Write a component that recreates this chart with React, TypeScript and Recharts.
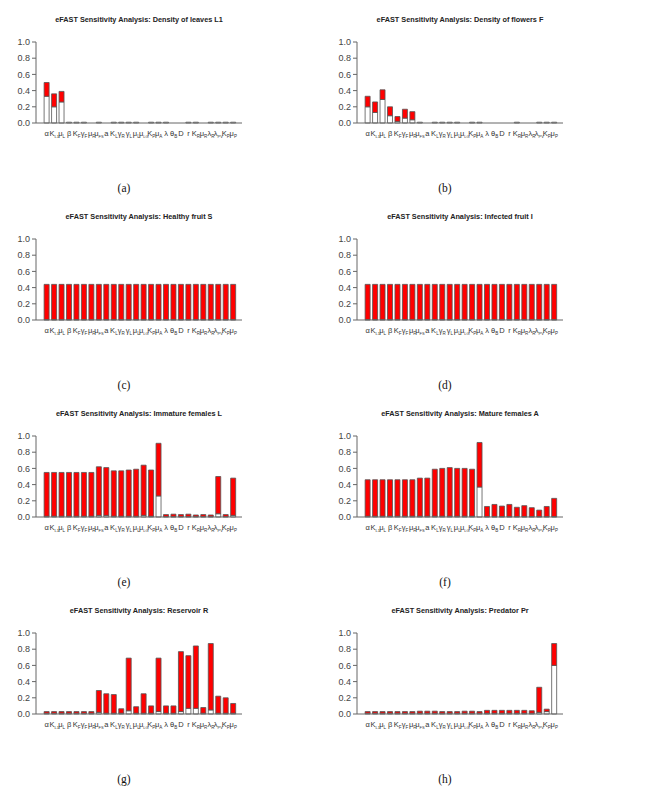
import { BarChart, Bar, XAxis, YAxis } from "recharts"

// parameter names under the bars (symbol + subscript)
const paramSymbols = ["α", "K", "μ", "β", "K", "γ", "μ", "μ", "a", "K", "γ", "γ", "μ", "μ", "K", "μ", "λ", "θ", "D", "r", "K", "μ", "λ", "λ", "K", "μ"]
const paramSubs = ["", "L1", "L", "", "F", "F", "F", "FS", "", "L", "R", "L", "L", "LG", "P", "A", "", "B", "", "", "R", "R", "R", "PV", "P", "P"]

const yTicks = [0, 0.2, 0.4, 0.6, 0.8, 1.0]

// first-order index (white part) and total-order index (top of red part)
const leavesFirst = [0.33, 0.2, 0.26, 0.01, 0.01, 0.01, 0, 0.01, 0, 0.01, 0.01, 0.01, 0.01, 0, 0.01, 0.01, 0.01, 0, 0, 0.01, 0.01, 0, 0.01, 0.01, 0.01, 0.01]
const leavesTotal = [0.5, 0.36, 0.39, 0.01, 0.01, 0.01, 0, 0.01, 0, 0.01, 0.01, 0.01, 0.01, 0, 0.01, 0.01, 0.01, 0, 0, 0.01, 0.01, 0, 0.01, 0.01, 0.01, 0.01]

const flowersFirst = [0.2, 0.13, 0.29, 0.09, 0.02, 0.06, 0.04, 0.01, 0, 0.01, 0.01, 0.01, 0.01, 0, 0.01, 0.01, 0, 0, 0, 0, 0.01, 0, 0, 0.01, 0.01, 0.01]
const flowersTotal = [0.33, 0.26, 0.41, 0.2, 0.08, 0.17, 0.14, 0.01, 0, 0.01, 0.01, 0.01, 0.01, 0, 0.01, 0.01, 0, 0, 0, 0, 0.01, 0, 0, 0.01, 0.01, 0.01]

const healthyFirst = [0.005, 0.005, 0.005, 0.005, 0.005, 0.005, 0.005, 0.005, 0.005, 0.005, 0.005, 0.005, 0.005, 0.005, 0.005, 0.005, 0.005, 0.005, 0.005, 0.005, 0.005, 0.005, 0.005, 0.005, 0.005, 0.005]
const healthyTotal = [0.44, 0.44, 0.44, 0.44, 0.44, 0.44, 0.44, 0.44, 0.44, 0.44, 0.44, 0.44, 0.44, 0.44, 0.44, 0.44, 0.44, 0.44, 0.44, 0.44, 0.44, 0.44, 0.44, 0.44, 0.44, 0.44]

const infectedFirst = [0.005, 0.005, 0.005, 0.005, 0.005, 0.005, 0.005, 0.005, 0.005, 0.005, 0.005, 0.005, 0.005, 0.005, 0.005, 0.005, 0.005, 0.005, 0.005, 0.005, 0.005, 0.005, 0.005, 0.005, 0.005, 0.005]
const infectedTotal = [0.44, 0.44, 0.44, 0.44, 0.44, 0.44, 0.44, 0.44, 0.44, 0.44, 0.44, 0.44, 0.44, 0.44, 0.44, 0.44, 0.44, 0.44, 0.44, 0.44, 0.44, 0.44, 0.44, 0.44, 0.44, 0.44]

const immatureFirst = [0.01, 0.01, 0.01, 0.01, 0.01, 0.01, 0.01, 0.02, 0.02, 0.01, 0.01, 0.01, 0.01, 0.02, 0.01, 0.26, 0.005, 0.005, 0.005, 0.005, 0.005, 0.005, 0.005, 0.04, 0.005, 0.02]
const immatureTotal = [0.55, 0.55, 0.55, 0.55, 0.55, 0.55, 0.55, 0.62, 0.61, 0.57, 0.57, 0.58, 0.59, 0.64, 0.58, 0.91, 0.03, 0.035, 0.03, 0.035, 0.025, 0.03, 0.025, 0.5, 0.03, 0.48]

const matureFirst = [0.01, 0.01, 0.01, 0.01, 0.01, 0.01, 0.01, 0.01, 0.01, 0.01, 0.01, 0.01, 0.01, 0.01, 0.01, 0.37, 0.005, 0.005, 0.005, 0.005, 0.005, 0.005, 0.005, 0.005, 0.005, 0.005]
const matureTotal = [0.46, 0.46, 0.46, 0.46, 0.46, 0.46, 0.46, 0.48, 0.48, 0.59, 0.6, 0.61, 0.6, 0.6, 0.59, 0.92, 0.13, 0.155, 0.135, 0.155, 0.12, 0.14, 0.115, 0.085, 0.13, 0.23]

const reservoirFirst = [0.01, 0.01, 0.01, 0.01, 0.01, 0.01, 0.01, 0.02, 0.01, 0.01, 0.01, 0.04, 0.01, 0.01, 0.01, 0.03, 0.01, 0.01, 0.03, 0.07, 0.07, 0.01, 0.05, 0.01, 0.01, 0.01]
const reservoirTotal = [0.03, 0.03, 0.03, 0.03, 0.03, 0.03, 0.03, 0.29, 0.25, 0.24, 0.065, 0.69, 0.09, 0.25, 0.1, 0.69, 0.1, 0.1, 0.77, 0.72, 0.84, 0.08, 0.87, 0.22, 0.2, 0.13]

const predatorFirst = [0.01, 0.01, 0.01, 0.01, 0.01, 0.01, 0.01, 0.01, 0.01, 0.01, 0.01, 0.01, 0.01, 0.01, 0.01, 0.01, 0.01, 0.01, 0.01, 0.01, 0.01, 0.01, 0.01, 0.02, 0.03, 0.6]
const predatorTotal = [0.03, 0.03, 0.03, 0.03, 0.03, 0.03, 0.03, 0.035, 0.035, 0.035, 0.03, 0.03, 0.03, 0.035, 0.035, 0.03, 0.045, 0.045, 0.045, 0.045, 0.045, 0.045, 0.04, 0.33, 0.06, 0.87]

const FONT = "'Liberation Sans', Arial, sans-serif"

function ParamTick(props: any) {
  const { x, y, payload } = props
  const i = payload.index
  const sub = paramSubs[i]
  return (
    <text x={x} y={y + 5} textAnchor="middle" fontSize={7.5} fill="#333" fontFamily={FONT}>
      <tspan>{paramSymbols[i]}</tspan>
      {sub ? (
        <tspan fontSize={sub.length > 1 ? 4 : 4.5} dy={2}>
          {sub}
        </tspan>
      ) : null}
    </text>
  )
}

interface PanelProps {
  title: string
  caption: string
  first: number[]
  total: number[]
  left: number
  top: number
}

function Panel({ title, caption, first, total, left, top }: PanelProps) {
  const data = first.map((f, i) => ({
    id: String(i),
    first: f,
    rest: Math.max(0, total[i] - f),
  }))

  return (
    <div style={{ position: "absolute", left, top, width: 321, height: 197 }}>
      <div
        style={{
          position: "absolute",
          left: 39,
          width: 200,
          top: 15,
          textAlign: "center",
          fontFamily: FONT,
          fontWeight: "bold",
          fontSize: 7.3,
          color: "#222",
          whiteSpace: "nowrap",
        }}
      >
        {title}
      </div>
      <BarChart
        width={260}
        height={150}
        data={data}
        margin={{ top: 42, right: 18, bottom: 0, left: 6 }}
        barCategoryGap="15%"
      >
        <XAxis
          dataKey="id"
          interval={0}
          tickLine={false}
          tick={<ParamTick />}
          axisLine={{ stroke: "#666" }}
          height={27}
          padding={{ left: 7, right: 5 }}
        />
        <YAxis
          domain={[0, 1]}
          ticks={yTicks}
          width={30}
          tickSize={4}
          tickMargin={2}
          tickFormatter={(v: number) => v.toFixed(1)}
          tick={{ fontSize: 9, fill: "#444", fontFamily: FONT }}
          tickLine={{ stroke: "#666" }}
          axisLine={{ stroke: "#666" }}
        />
        <YAxis
          yAxisId="right"
          orientation="right"
          domain={[0, 1]}
          width={0}
          tick={false}
          tickLine={false}
          axisLine={{ stroke: "#666" }}
        />
        <Bar dataKey="first" stackId="s" fill="#ffffff" stroke="#555" strokeWidth={0.8} isAnimationActive={false} />
        <Bar dataKey="rest" stackId="s" fill="#ff0000" stroke="#555" strokeWidth={0.8} isAnimationActive={false} />
      </BarChart>
      <div
        style={{
          position: "absolute",
          left: 104,
          width: 40,
          top: 182,
          textAlign: "center",
          fontFamily: "'Liberation Serif', 'Times New Roman', serif",
          fontSize: 11.5,
          color: "#111",
        }}
      >
        {caption}
      </div>
    </div>
  )
}

export default function App() {
  return (
    <div style={{ position: "absolute", left: 0, top: 0, width: 653, height: 796, background: "#fff" }}>
      <Panel title="eFAST Sensitivity Analysis: Density of leaves L1" caption="(a)" first={leavesFirst} total={leavesTotal} left={0} top={0} />
      <Panel title="eFAST Sensitivity Analysis: Density of flowers F" caption="(b)" first={flowersFirst} total={flowersTotal} left={321} top={0} />
      <Panel title="eFAST Sensitivity Analysis: Healthy fruit S" caption="(c)" first={healthyFirst} total={healthyTotal} left={0} top={197} />
      <Panel title="eFAST Sensitivity Analysis: Infected fruit I" caption="(d)" first={infectedFirst} total={infectedTotal} left={321} top={197} />
      <Panel title="eFAST Sensitivity Analysis: Immature females L" caption="(e)" first={immatureFirst} total={immatureTotal} left={0} top={394} />
      <Panel title="eFAST Sensitivity Analysis: Mature females A" caption="(f)" first={matureFirst} total={matureTotal} left={321} top={394} />
      <Panel title="eFAST Sensitivity Analysis: Reservoir R" caption="(g)" first={reservoirFirst} total={reservoirTotal} left={0} top={591} />
      <Panel title="eFAST Sensitivity Analysis: Predator Pr" caption="(h)" first={predatorFirst} total={predatorTotal} left={321} top={591} />
    </div>
  )
}
